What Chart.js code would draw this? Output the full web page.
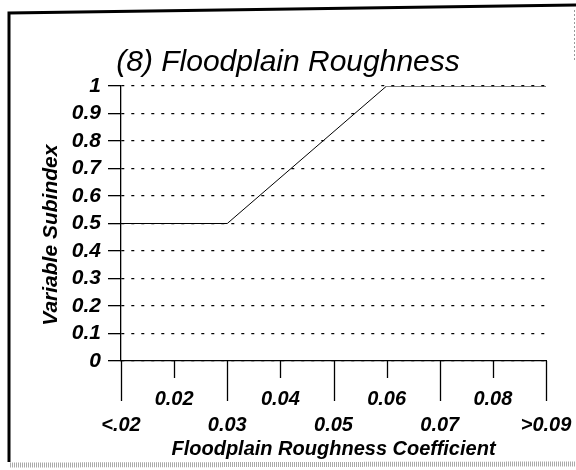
<!DOCTYPE html>
<html>
<head>
<meta charset="utf-8">
<script src="https://cdn.jsdelivr.net/npm/chart.js@4.4.1/dist/chart.umd.min.js"></script>
<style>
  html, body { margin: 0; padding: 0; background: #fff; }
  #chart { display: block; }
</style>
</head>
<body>
<canvas id="chart" width="576" height="470"></canvas>
<script>
// ==== data ====
const xTicks = [0.01, 0.02, 0.03, 0.04, 0.05, 0.06, 0.07, 0.08, 0.09];
const xTickLabels = ['<.02', '0.02', '0.03', '0.04', '0.05', '0.06', '0.07', '0.08', '>0.09'];
const curveX = [0.01, 0.03, 0.06, 0.09];
const curveY = [0.5, 0.5, 1, 1];
const yTicks = [0, 0.1, 0.2, 0.3, 0.4, 0.5, 0.6, 0.7, 0.8, 0.9, 1];

const FONT = '"Liberation Sans", Arial, sans-serif';

// frame round the whole picture (scanned look)
const framePlugin = {
  id: 'frame',
  beforeDraw(chart) {
    const ctx = chart.ctx;
    ctx.save();
    ctx.fillStyle = '#fff';
    ctx.fillRect(0, 0, chart.width, chart.height);
    ctx.strokeStyle = '#000';
    ctx.lineWidth = 3;
    ctx.beginPath();
    ctx.moveTo(9, 462); ctx.lineTo(9, 13);
    ctx.lineTo(576, 5);
    ctx.stroke();
    ctx.strokeStyle = '#999';
    ctx.lineWidth = 1;
    ctx.setLineDash([2, 2]);
    ctx.beginPath();
    ctx.moveTo(574.5, 10); ctx.lineTo(574.5, 60);
    ctx.stroke();
    ctx.setLineDash([1, 1]);
    ctx.lineWidth = 5;
    ctx.strokeStyle = '#aaa';
    ctx.beginPath();
    ctx.moveTo(10, 465); ctx.lineTo(576, 464);
    ctx.stroke();
    ctx.restore();
  }
};

// long / short ticks below the x axis
const xTickPlugin = {
  id: 'xTickMarks',
  afterDraw(chart) {
    const sx = chart.scales.x;
    const ctx = chart.ctx;
    const y0 = chart.chartArea.bottom;
    ctx.save();
    ctx.strokeStyle = '#000';
    ctx.lineWidth = 1.3;
    sx.ticks.forEach((t, i) => {
      const px = Math.round(sx.getPixelForValue(t.value)) + 0.5;
      ctx.beginPath();
      ctx.moveTo(px, y0);
      ctx.lineTo(px, y0 + (i % 2 === 0 ? 40 : 17));
      ctx.stroke();
    });
    ctx.restore();
  }
};

new Chart(document.getElementById('chart'), {
  type: 'line',
  data: {
    datasets: [{
      data: curveX.map((x, i) => ({ x: x, y: curveY[i] })),
      borderColor: '#000',
      borderWidth: 1,
      pointRadius: 0,
      tension: 0,
      fill: false
    }]
  },
  options: {
    responsive: false,
    animation: false,
    layout: { padding: { left: 30, right: 30, top: 0, bottom: 0 } },
    plugins: {
      legend: { display: false },
      tooltip: { enabled: false },
      title: {
        display: true,
        text: '(8) Floodplain Roughness',
        color: '#000',
        font: { family: FONT, size: 30, style: 'italic', weight: 'normal' },
        padding: { top: 45, bottom: 5 }
      }
    },
    scales: {
      x: {
        type: 'linear',
        min: 0.01,
        max: 0.09,
        afterBuildTicks(scale) { scale.ticks = xTicks.map(v => ({ value: v })); },
        afterFit(scale) { scale.height = 109; },
        ticks: {
          autoSkip: false,
          maxRotation: 0,
          padding: 0,
          color: '#000',
          font: { family: FONT, size: 20, style: 'italic', weight: 'bold', lineHeight: '26px' },
          callback(value, index) {
            const lbl = xTickLabels[index];
            return index % 2 === 0 ? ['', lbl] : [lbl, ''];
          }
        },
        grid: { drawOnChartArea: false, drawTicks: true, tickLength: 25, tickColor: 'rgba(0,0,0,0)' },
        border: { display: true, color: '#000', width: 1.3 },
        title: {
          display: true,
          text: 'Floodplain Roughness Coefficient',
          color: '#000',
          font: { family: FONT, size: 20, style: 'italic', weight: 'bold' },
          padding: { top: 0, bottom: 9 }
        }
      },
      y: {
        min: 0,
        max: 1,
        afterBuildTicks(scale) { scale.ticks = yTicks.map(v => ({ value: v })); },
        afterFit(scale) { scale.width = 91; },
        ticks: {
          autoSkip: false,
          padding: 7,
          color: '#000',
          font: { family: FONT, size: 21, style: 'italic', weight: 'bold' },
          callback(value) { return String(value); }
        },
        grid: {
          color: '#000',
          lineWidth: 1.3,
          tickLength: 13,
          tickColor: '#000',
          tickBorderDash: []
        },
        border: { display: true, color: '#000', width: 1.3, dash: [3, 7] },
        title: {
          display: true,
          text: 'Variable Subindex    ',
          color: '#000',
          font: { family: FONT, size: 21, style: 'italic', weight: 'bold' },
          padding: { top: 9, bottom: 0 }
        }
      }
    }
  },
  plugins: [framePlugin, xTickPlugin]
});
</script>
</body>
</html>
